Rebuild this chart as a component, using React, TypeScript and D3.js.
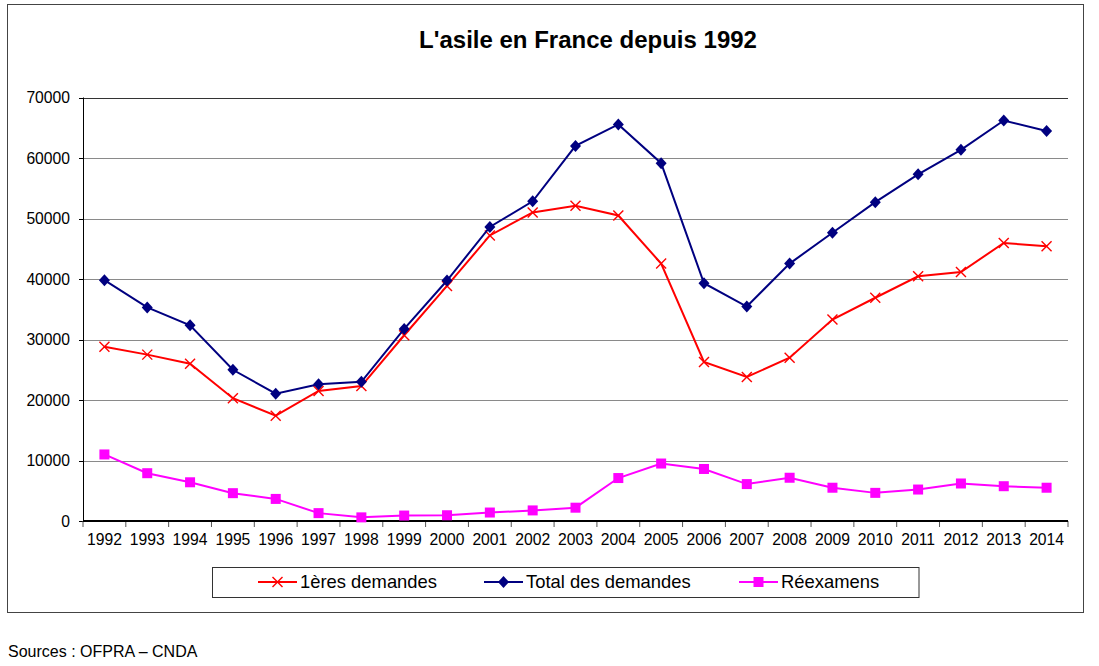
import React from "react";
import * as d3 from "d3";

const years = ["1992","1993","1994","1995","1996","1997","1998","1999","2000","2001","2002","2003","2004","2005","2006","2007","2008","2009","2010","2011","2012","2013","2014"];
const premieres = [28800, 27500, 26000, 20300, 17400, 21500, 22300, 30700, 38850, 47200, 51000, 52100, 50500, 42550, 26300, 23800, 27000, 33300, 36900, 40450, 41150, 45950, 45400];
const total = [39800, 35300, 32350, 25000, 21050, 22600, 23000, 31750, 39750, 48600, 52850, 62000, 65550, 59150, 39300, 35450, 42550, 47650, 52700, 57300, 61350, 66200, 64450];
const reexamens = [11000, 7900, 6400, 4600, 3650, 1300, 600, 900, 950, 1400, 1750, 2200, 7100, 9500, 8600, 6100, 7150, 5500, 4650, 5200, 6200, 5750, 5500];
const yTicks = [0, 10000, 20000, 30000, 40000, 50000, 60000, 70000];

const FONT = "'Liberation Sans', Arial, sans-serif";
const RED = "#ff0000";
const NAVY = "#000080";
const MAG = "#ff00ff";

export default function App() {
  const W = 1099, H = 666;
  const x = d3.scaleBand<string>().domain(years).range([83, 1068]);
  const y = d3.scaleLinear().domain([0, 70000]).range([521, 97.5]);
  const cx = (i: number) => (x(years[i]) as number) + x.bandwidth() / 2;
  const line = d3.line<number>().x((_, i) => cx(i)).y((v) => y(v));

  const cross = (px: number, py: number, k: string, color: string) => (
    <g key={k} stroke={color} strokeWidth={1.4}>
      <line x1={px - 5} y1={py - 5} x2={px + 5} y2={py + 5} />
      <line x1={px - 5} y1={py + 5} x2={px + 5} y2={py - 5} />
    </g>
  );
  const diamond = (px: number, py: number, k: string) => (
    <path key={k} d={`M${px},${py - 6}L${px + 5.5},${py}L${px},${py + 6}L${px - 5.5},${py}Z`} fill={NAVY} />
  );
  const square = (px: number, py: number, k: string) => (
    <rect key={k} x={px - 5} y={py - 5} width={10} height={10} fill={MAG} />
  );

  const boundaries = years.map((yr) => x(yr) as number).concat([1068]);

  const legendY = 582;
  const legendItems = [
    { label: "1ères demandes", x0: 258, color: RED, kind: "x" },
    { label: "Total des demandes", x0: 484, color: NAVY, kind: "d" },
    { label: "Réexamens", x0: 739, color: MAG, kind: "s" },
  ];

  return (
    <svg width={W} height={H} style={{ position: "absolute", left: 0, top: 0 }} fontFamily={FONT}>
      <rect x={0} y={0} width={W} height={H} fill="#fff" />
      <rect x={7.5} y={4.5} width={1076} height={608} fill="#fff" stroke="#444" strokeWidth={1} />
      <text x={588} y={48} textAnchor="middle" fontSize={24} fontWeight="bold" fill="#000">
        L'asile en France depuis 1992
      </text>

      {yTicks.map((t) => (
        <g key={t}>
          {t > 0 && (
            <line x1={83} x2={1068} y1={Math.round(y(t)) + 0.5} y2={Math.round(y(t)) + 0.5} stroke={t === 70000 ? "#333" : "#8a8a8a"} strokeWidth={1} />
          )}
          <line x1={79} x2={83} y1={Math.round(y(t)) + 0.5} y2={Math.round(y(t)) + 0.5} stroke="#000" />
          <text x={70} y={y(t) + 5.5} textAnchor="end" fontSize={15.7} fill="#000">{t}</text>
        </g>
      ))}
      <line x1={83.5} x2={83.5} y1={97.5} y2={521} stroke="#000" strokeWidth={1} />

      {boundaries.map((b, i) => (
        <line key={i} x1={b} x2={b} y1={521} y2={527} stroke="#555" strokeWidth={1} />
      ))}
      <line x1={83} x2={1068} y1={521} y2={521} stroke="#000" strokeWidth={2} />
      {years.map((yr, i) => (
        <text key={yr} x={cx(i)} y={545} textAnchor="middle" fontSize={15.7} fill="#000">{yr}</text>
      ))}

      <path d={line(premieres) || ""} fill="none" stroke={RED} strokeWidth={2} />
      {premieres.map((v, i) => cross(cx(i), y(v), "p" + i, RED))}
      <path d={line(total) || ""} fill="none" stroke={NAVY} strokeWidth={2} />
      {total.map((v, i) => diamond(cx(i), y(v), "t" + i))}
      <path d={line(reexamens) || ""} fill="none" stroke={MAG} strokeWidth={2} />
      {reexamens.map((v, i) => square(cx(i), y(v), "r" + i))}

      <rect x={212.5} y={567.5} width={706.5} height={30} fill="#fff" stroke="#333" strokeWidth={1} />
      {legendItems.map((it) => (
        <g key={it.label}>
          <line x1={it.x0} x2={it.x0 + 39} y1={legendY} y2={legendY} stroke={it.color} strokeWidth={2} />
          {it.kind === "x" && cross(it.x0 + 19.5, legendY, "lx", it.color)}
          {it.kind === "d" && diamond(it.x0 + 19.5, legendY, "ld")}
          {it.kind === "s" && square(it.x0 + 19.5, legendY, "ls")}
          <text x={it.x0 + 42} y={legendY + 6} fontSize={18.4} fill="#000">{it.label}</text>
        </g>
      ))}

      <text x={8} y={657} fontSize={16} fill="#000">Sources : OFPRA – CNDA</text>
    </svg>
  );
}
